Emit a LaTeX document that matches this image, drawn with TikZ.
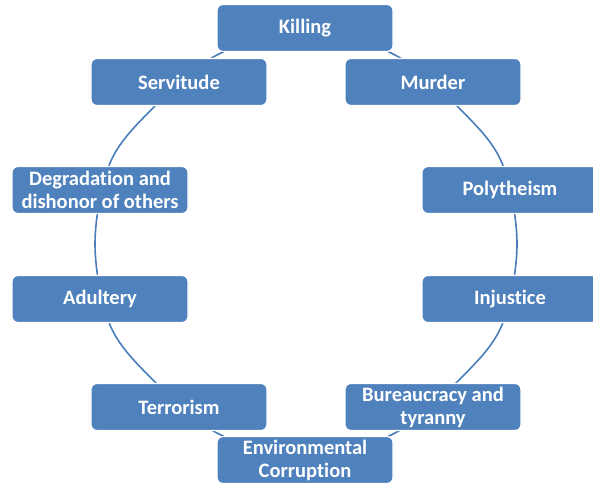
\documentclass[tikz,border=0pt]{standalone}
\usepackage{fontspec}
\setmainfont{Carlito}[Ligatures={NoCommon}]
\definecolor{boxblue}{HTML}{4F81BD}
\definecolor{ringblue}{HTML}{4A7EBB}
\begin{document}
\begin{tikzpicture}[x=1pt,y=-1pt,
  stage/.style={rectangle, rounded corners=6pt, fill=boxblue, draw=white,
    line width=1.2pt, minimum width=176pt, minimum height=47pt,
    text=white, font=\fontsize{20.5}{23}\selectfont\bfseries,
    align=center, inner sep=0pt},
  ring/.style={draw=ringblue, line width=1.6pt}]
\useasboundingbox (0,0) rectangle (593,486);
\clip (0,0) rectangle (593,486);

% points of the ring that links the stages
\coordinate (r1) at (306,30);
\coordinate (r2) at (395,55);
\coordinate (r3) at (461,110);
\coordinate (r4) at (502,163);
\coordinate (r5) at (517,244);
\coordinate (r6) at (502,325);
\coordinate (r7) at (461,378);
\coordinate (r8) at (395,433);
\coordinate (r9) at (306,458);
\coordinate (r10) at (217,433);
\coordinate (r11) at (151,378);
\coordinate (r12) at (110,325);
\coordinate (r13) at (95,244);
\coordinate (r14) at (110,163);
\coordinate (r15) at (151,110);
\coordinate (r16) at (217,55);
\draw[ring] plot[smooth cycle, tension=0.55] coordinates
  {(r1) (r2) (r3) (r4) (r5) (r6) (r7) (r8) (r9) (r10) (r11) (r12) (r13) (r14) (r15) (r16)};

% the stages
\node[stage] (killing)  at (305,28)  {Killing};
\node[stage] (murder)   at (433,82)  {Murder};
\node[stage] (poly)     at (510,190) {Polytheism};
\node[stage] (injust)   at (510,299) {Injustice};
\node[stage] (bureau)   at (433,407) {Bureaucracy and\\tyranny};
\node[stage] (environ)  at (305,460) {Environmental\\Corruption};
\node[stage] (terror)   at (179,407) {Terrorism};
\node[stage] (adultery) at (100,299) {Adultery};
\node[stage] (degrad)   at (100,190) {Degradation and\\dishonor of others};
\node[stage] (servit)   at (179,82)  {Servitude};
\end{tikzpicture}
\end{document}
